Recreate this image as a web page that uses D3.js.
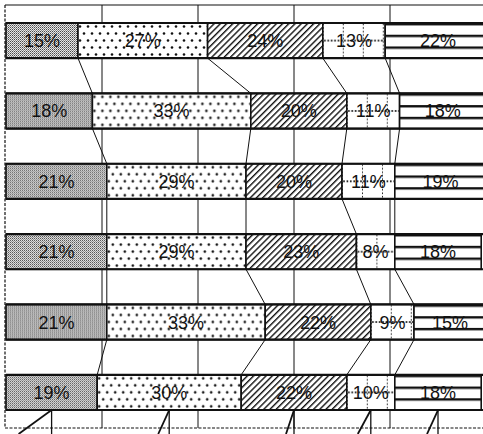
<!DOCTYPE html>
<html>
<head>
<meta charset="utf-8">
<script src="https://cdn.jsdelivr.net/npm/d3@7"></script>
<style>
  body { margin: 0; background: #fff; }
  svg { display: block; }
  text { font-family: "Liberation Sans", Arial, sans-serif; }
</style>
</head>
<body>
<script>
// six stacked rows, five shares each (percent)
var rows = ["r1", "r2", "r3", "r4", "r5", "r6"]
var seg1 = [15, 18, 21, 21, 21, 19]
var seg2 = [27, 33, 29, 29, 33, 30]
var seg3 = [24, 20, 20, 23, 22, 22]
var seg4 = [13, 11, 11, 8, 9, 10]
var seg5 = [22, 18, 19, 18, 15, 18]
var gridTicks = [20, 40, 60, 80]
// how far each leader line leans left under the last row
var calloutLean = [-33, -11, -8, -13, -11]

var width = 483, height = 434
var ink = "#111"

var svg = d3.select("body").append("svg")
  .attr("width", width)
  .attr("height", height)

var x = d3.scaleLinear().domain([0, 100]).range([6, 486])
var y = d3.scaleBand().domain(rows).range([23, 410]).paddingInner(0.5).paddingOuter(0)
var bw = y.bandwidth()

var series = [seg1, seg2, seg3, seg4, seg5]
var data = rows.map(function (r, i) {
  var cum = 0
  return series.map(function (s, k) {
    var d = { row: r, k: k, v: s[i], x0: cum, x1: cum + s[i] }
    cum += s[i]
    return d
  })
})

// patterns
var defs = svg.append("defs")

var p0 = defs.append("pattern").attr("id", "p0")
  .attr("patternUnits", "userSpaceOnUse").attr("width", 2).attr("height", 2)
p0.append("rect").attr("width", 2).attr("height", 2).attr("fill", "#e8e8e8")
p0.append("rect").attr("width", 1).attr("height", 1).attr("fill", "#4a4a4a")
p0.append("rect").attr("x", 1).attr("y", 1).attr("width", 1).attr("height", 1).attr("fill", "#8a8a8a")

var p1 = defs.append("pattern").attr("id", "p1")
  .attr("patternUnits", "userSpaceOnUse").attr("width", 8).attr("height", 14)
p1.append("rect").attr("width", 8).attr("height", 14).attr("fill", "#fff")
p1.append("circle").attr("cx", 2).attr("cy", 3.5).attr("r", 1.3).attr("fill", ink)
p1.append("circle").attr("cx", 6).attr("cy", 10.5).attr("r", 1.3).attr("fill", ink)

var p2 = defs.append("pattern").attr("id", "p2")
  .attr("patternUnits", "userSpaceOnUse").attr("width", 4.4).attr("height", 4.4)
  .attr("patternTransform", "rotate(45)")
p2.append("rect").attr("width", 4.4).attr("height", 4.4).attr("fill", "#fff")
p2.append("line").attr("x1", 0.7).attr("x2", 0.7).attr("y1", 0).attr("y2", 4.4)
  .attr("stroke", ink).attr("stroke-width", 1.4)

var p3 = defs.append("pattern").attr("id", "p3")
  .attr("patternUnits", "userSpaceOnUse").attr("width", 20).attr("height", bw)
p3.append("rect").attr("width", 20).attr("height", bw).attr("fill", "#fff")
p3.selectAll("circle.v").data(d3.range(1.5, bw, 3.5)).enter().append("circle")
  .attr("cx", 0).attr("cy", function (d) { return d }).attr("r", 1).attr("fill", ink)
p3.selectAll("circle.h").data(d3.range(2, 20, 3.4)).enter().append("circle")
  .attr("cx", function (d) { return d }).attr("cy", bw / 2).attr("r", 1).attr("fill", ink)

var p4 = defs.append("pattern").attr("id", "p4")
  .attr("patternUnits", "userSpaceOnUse").attr("width", 10).attr("height", bw / 3)
p4.append("rect").attr("width", 10).attr("height", bw / 3).attr("fill", "#fff")
p4.append("rect").attr("width", 10).attr("height", 2.4).attr("fill", ink)

// frame
svg.append("line")
  .attr("x1", 5).attr("x2", width).attr("y1", 5).attr("y2", 5)
  .attr("stroke", ink).attr("stroke-width", 1.2)
svg.append("line")
  .attr("x1", 5).attr("x2", 5).attr("y1", 5).attr("y2", 428)
  .attr("stroke", ink).attr("stroke-width", 1.2).attr("stroke-dasharray", "3,1.5")
svg.append("line")
  .attr("x1", 5).attr("x2", width).attr("y1", 428).attr("y2", 428)
  .attr("stroke", ink).attr("stroke-width", 1.2).attr("stroke-dasharray", "3,1.5")

// vertical grid lines behind bars
svg.selectAll("line.grid").data(gridTicks).enter().append("line")
  .attr("class", "grid")
  .attr("x1", function (d) { return x(d) }).attr("x2", function (d) { return x(d) })
  .attr("y1", 5).attr("y2", 428)
  .attr("stroke", ink).attr("stroke-width", 1)

// connectors between rows
for (var i = 0; i < rows.length - 1; i++) {
  for (var k = 0; k < 4; k++) {
    svg.append("line")
      .attr("x1", x(data[i][k].x1)).attr("y1", y(rows[i]) + bw)
      .attr("x2", x(data[i + 1][k].x1)).attr("y2", y(rows[i + 1]))
      .attr("stroke", ink).attr("stroke-width", 1)
  }
}

// bars
var rowG = svg.selectAll("g.row").data(data).enter().append("g")
  .attr("class", "row")

var cell = rowG.selectAll("g.cell").data(function (d) { return d }).enter().append("g")
  .attr("class", "cell")
  .attr("transform", function (d) { return "translate(" + x(d.x0) + "," + y(d.row) + ")" })

cell.append("rect")
  .attr("width", function (d) { return x(d.x1) - x(d.x0) })
  .attr("height", bw)
  .attr("fill", function (d) { return "url(#p" + d.k + ")" })
  .attr("stroke", ink).attr("stroke-width", 1.6)

cell.append("text")
  .attr("x", function (d) { return (x(d.x1) - x(d.x0)) / 2 })
  .attr("y", bw / 2 + 6.5)
  .attr("text-anchor", "middle")
  .attr("font-size", 18)
  .attr("fill", ink)
  .text(function (d) { return d.v + "%" })

// heavier top and bottom edges
rowG.each(function (d) {
  var g = d3.select(this)
  var top = y(d[0].row)
  g.append("line").attr("x1", x(0)).attr("x2", width).attr("y1", top).attr("y2", top)
    .attr("stroke", ink).attr("stroke-width", 2.2)
  g.append("line").attr("x1", x(0)).attr("x2", width).attr("y1", top + bw).attr("y2", top + bw)
    .attr("stroke", ink).attr("stroke-width", 2.2)
})

// leader lines under the last row
var last = data[rows.length - 1]
var bottom = y(rows[rows.length - 1]) + bw
last.forEach(function (d, k) {
  var cx = x((d.x0 + d.x1) / 2)
  svg.append("line")
    .attr("x1", cx).attr("x2", cx).attr("y1", bottom).attr("y2", height)
    .attr("stroke", ink).attr("stroke-width", 1.3)
  svg.append("line")
    .attr("x1", cx).attr("x2", cx + calloutLean[k]).attr("y1", bottom).attr("y2", height)
    .attr("stroke", ink).attr("stroke-width", 1.8)
})
</script>
</body>
</html>
